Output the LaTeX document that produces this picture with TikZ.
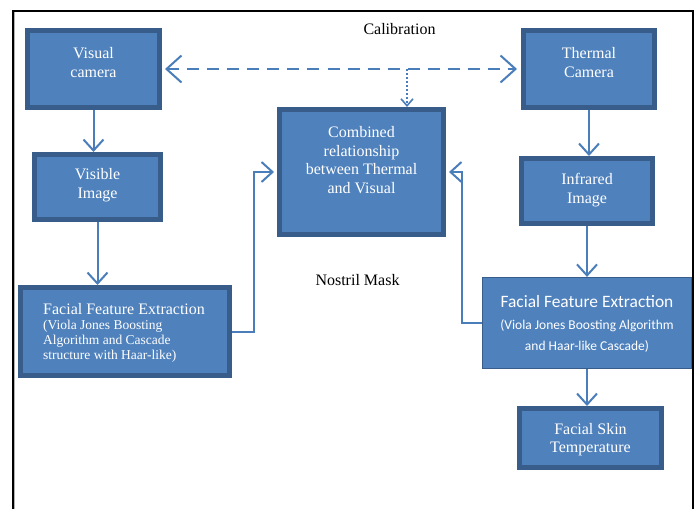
\documentclass[tikz,border=0pt]{standalone}
\usepackage{fontspec}
\setmainfont{Liberation Serif}
\newfontfamily\calib{Carlito}
\usetikzlibrary{arrows.meta}
\definecolor{boxfill}{HTML}{4F81BD}
\definecolor{boxborder}{HTML}{385D8A}
\definecolor{arrowc}{HTML}{4A7EBB}
\tikzset{
  box/.style={draw=boxborder, fill=boxfill, line width=5pt, inner sep=0pt},
  thinbox/.style={draw=boxborder, fill=boxfill, line width=1.2pt, inner sep=0pt},
  txt/.style={text=white, align=center, inner sep=0pt, font=\fontsize{16}{18.5}\selectfont},
  plain/.style={text=black, inner sep=0pt, font=\fontsize{16}{18.5}\selectfont},
  conn/.style={draw=arrowc, line width=2pt, -{Straight Barb[length=11pt,width=20pt,line width=2pt]}},
  calib/.style={draw=arrowc, line width=2pt, dash pattern=on 12pt off 8pt,
    {Straight Barb[length=15pt,width=27pt,line width=2pt]}-{Straight Barb[length=15pt,width=27pt,line width=2pt]}},
  dotconn/.style={draw=arrowc, line width=1.6pt, dash pattern=on 2pt off 2pt,
    -{Straight Barb[length=7pt,width=12pt,line width=1.6pt]}}
}
\begin{document}
\begin{tikzpicture}[x=1pt,y=-1pt]
\useasboundingbox (0,0) rectangle (698,509);
% frame
\draw[line width=2pt] (12.5,509) -- (12.5,10.5) -- (693,10.5) -- (693,509);
\draw[line width=0.8pt, gray!60] (14.2,509) -- (14.2,12.2);

% boxes
\node[box, minimum width=132pt, minimum height=77pt] (vis) at (93.5,69) {};
\node[box, minimum width=131pt, minimum height=77pt] (therm) at (589,69) {};
\node[box, minimum width=126pt, minimum height=65pt] (visimg) at (97.5,187) {};
\node[box, minimum width=131pt, minimum height=65pt] (irimg) at (587,191) {};
\node[box, minimum width=164pt, minimum height=125pt] (comb) at (361.5,172) {};
\node[box, minimum width=209pt, minimum height=88pt] (ffeL) at (125,331.5) {};
\node[thinbox, minimum width=209pt, minimum height=91pt] (ffeR) at (587,323) {};
\node[box, minimum width=142pt, minimum height=59pt] (skin) at (590.5,438) {};

% texts
\node[txt] (visT) at (93.5,62.5) {Visual\\camera};
\node[txt] (thermT) at (589,62.5) {Thermal\\Camera};
\node[txt] (visimgT) at (97.5,185) {Visible\\Image};
\node[txt] (irimgT) at (587,190) {Infrared\\Image};
\node[txt] (combT) at (361.5,160) {Combined\\relationship\\between Thermal\\and Visual};
\node[txt, align=left, anchor=west, font=\fontsize{13.5}{15}\selectfont] (ffeLT) at (43,333)
  {{\fontsize{16}{17}\selectfont Facial Feature Extraction}\\(Viola Jones Boosting\\Algorithm and Cascade\\structure with Haar-like)};
\node[txt, font=\calib\fontsize{13.5}{21.5}\selectfont] (ffeRT) at (587,324)
  {{\fontsize{17.4}{20}\selectfont Facial Feature Extraction}\\(Viola Jones Boosting Algorithm\\and Haar-like Cascade)};
\node[txt] (skinT) at (590.5,439.5) {Facial Skin\\Temperature};
\node[plain] (calT) at (399.5,29.5) {Calibration};
\node[plain] (nosT) at (357.5,280) {Nostril Mask};

% connectors
\draw[conn] (vis.south) -- (vis.south |- visimg.north);
\draw[conn] (visimg.south) -- (visimg.south |- ffeL.north);
\draw[conn] (therm.south) -- (therm.south |- irimg.north);
\draw[conn] (irimg.south) -- (irimg.south |- ffeR.north);
\draw[conn] (ffeR.south) -- (ffeR.south |- skin.north);
\draw[conn] (ffeL.east) -- ++(22,0) |- ([xshift=-3pt]comb.west);
\draw[conn] (ffeR.west) -- ++(-20,0) |- ([xshift=3pt]comb.east);
\draw[calib] ([xshift=3pt]vis.east) -- ([xshift=-4pt]therm.west);
\coordinate (calmid) at (407,69);
\draw[dotconn] (calmid) -- (calmid |- comb.north);
\end{tikzpicture}
\end{document}
